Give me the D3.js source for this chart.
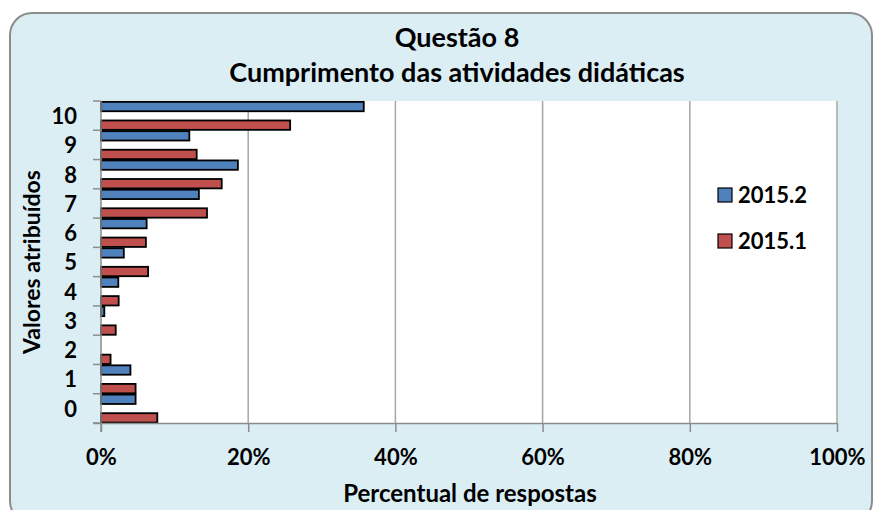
<!DOCTYPE html>
<html>
<head>
<meta charset="utf-8">
<script src="https://cdn.jsdelivr.net/npm/d3@7"></script>
<style>
  html, body { margin: 0; padding: 0; background: #ffffff; }
  text { font-family: Lato, "Open Sans", sans-serif; font-weight: bold; fill: #000; }
</style>
</head>
<body>
<svg id="chart" width="876" height="510"></svg>
<script>
// Score categories (0–10) and share of responses per semester, in percent
const categories = ["0", "1", "2", "3", "4", "5", "6", "7", "8", "9", "10"];
const values2015_2 = [4.7, 4.0, 0, 0.45, 2.35, 3.1, 6.2, 13.3, 18.6, 12.0, 35.7];
const values2015_1 = [7.65, 4.7, 1.3, 2.0, 2.4, 6.4, 6.1, 14.4, 16.4, 13.0, 25.7];
const xTicks = [0, 20, 40, 60, 80, 100];
const seriesNames = ["2015.2", "2015.1"];
const seriesColors = ["#4f81bd", "#c0504d"];

const svg = d3.select("#chart");

// Rounded chart background
svg.append("rect")
  .attr("x", 10).attr("y", 13)
  .attr("width", 862).attr("height", 510)
  .attr("rx", 22).attr("ry", 22)
  .attr("fill", "#dbeef4")
  .attr("stroke", "#8c8c8c")
  .attr("stroke-width", 2);

const plot = { left: 101, right: 837, top: 101, bottom: 423 };

const x = d3.scaleLinear().domain([0, 100]).range([plot.left, plot.right]);
const y = d3.scaleBand()
  .domain(categories.slice().reverse())
  .range([plot.top, plot.bottom])
  .paddingInner(0).paddingOuter(0);

// Plot area
svg.append("rect")
  .attr("x", plot.left).attr("y", plot.top)
  .attr("width", plot.right - plot.left).attr("height", plot.bottom - plot.top)
  .attr("fill", "#ffffff");

// Vertical gridlines
svg.append("g")
  .selectAll("line")
  .data(xTicks.filter(d => d > 0))
  .join("line")
  .attr("x1", d => x(d)).attr("x2", d => x(d))
  .attr("y1", plot.top).attr("y2", plot.bottom)
  .attr("stroke", "#a6a6a6").attr("stroke-width", 1.5);

// Bars: each band holds the 2015.2 bar at its top and the 2015.1 bar at its bottom
const bw = y.bandwidth();
const barH = bw * 0.32;
const seriesData = [values2015_2, values2015_1];
const offsets = [0.03, 0.665];

seriesData.forEach((vals, si) => {
  svg.append("g")
    .selectAll("rect")
    .data(categories.map((c, i) => ({ c, v: vals[i] })).filter(d => d.v > 0))
    .join("rect")
    .attr("x", x(0))
    .attr("y", d => y(d.c) + bw * offsets[si])
    .attr("width", d => x(d.v) - x(0))
    .attr("height", barH)
    .attr("fill", seriesColors[si])
    .attr("stroke", "#000")
    .attr("stroke-width", 1.8);
});

// Y axis: boundary ticks between bands, labels centred in bands
const yAxisG = svg.append("g");
const boundaries = d3.range(categories.length + 1).map(i => plot.top + i * bw);
yAxisG.selectAll("line.tick")
  .data(boundaries)
  .join("line")
  .attr("x1", plot.left - 8).attr("x2", plot.left)
  .attr("y1", d => d).attr("y2", d => d)
  .attr("stroke", "#8c8c8c").attr("stroke-width", 1.5);
yAxisG.append("line")
  .attr("x1", plot.left).attr("x2", plot.left)
  .attr("y1", plot.top).attr("y2", plot.bottom + 9)
  .attr("stroke", "#8c8c8c").attr("stroke-width", 1.5);
yAxisG.selectAll("text")
  .data(categories)
  .join("text")
  .attr("x", 77)
  .attr("y", d => y(d) + bw / 2)
  .attr("dy", "0.38em")
  .attr("text-anchor", "end")
  .attr("font-size", 22)
  .text(d => d);

// X axis
const xAxis = d3.axisBottom(x)
  .tickValues(xTicks)
  .tickSize(9)
  .tickPadding(17)
  .tickFormat(d => d + "%");
const xAxisG = svg.append("g")
  .attr("transform", `translate(0,${plot.bottom})`)
  .call(xAxis);
xAxisG.select(".domain").attr("stroke", "#8c8c8c").attr("stroke-width", 1.5)
  .attr("d", `M${plot.left - 8},0.5H${plot.right}`);
xAxisG.selectAll(".tick line").attr("stroke", "#8c8c8c").attr("stroke-width", 1.5);
xAxisG.selectAll(".tick text")
  .attr("font-size", 22)
  .attr("font-family", "Lato, sans-serif")
  .attr("font-weight", "bold")
  .attr("fill", "#000");

// Titles
svg.append("text")
  .attr("x", 457).attr("y", 47)
  .attr("text-anchor", "middle")
  .attr("font-size", 27)
  .text("Questão 8");
svg.append("text")
  .attr("x", 457).attr("y", 82)
  .attr("text-anchor", "middle")
  .attr("font-size", 27)
  .text("Cumprimento das atividades didáticas");

svg.append("text")
  .attr("x", 470).attr("y", 502)
  .attr("text-anchor", "middle")
  .attr("font-size", 24)
  .text("Percentual de respostas");

svg.append("text")
  .attr("transform", `translate(40,${(plot.top + plot.bottom) / 2}) rotate(-90)`)
  .attr("text-anchor", "middle")
  .attr("font-size", 23)
  .text("Valores atribuídos");

// Legend
const legend = svg.append("g");
seriesNames.forEach((name, i) => {
  const ly = 195 + i * 46;
  legend.append("rect")
    .attr("x", 718).attr("y", ly - 7)
    .attr("width", 14).attr("height", 14)
    .attr("fill", seriesColors[i])
    .attr("stroke", "#000").attr("stroke-width", 1.2);
  legend.append("text")
    .attr("x", 738).attr("y", ly)
    .attr("dy", "0.36em")
    .attr("font-size", 22)
    .text(name);
});
</script>
</body>
</html>
